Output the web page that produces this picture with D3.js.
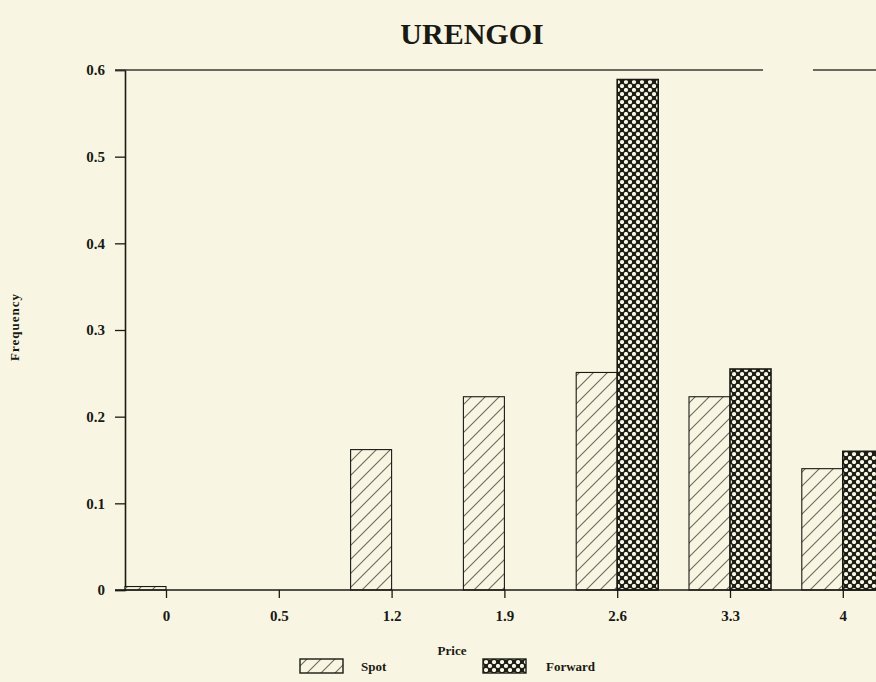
<!DOCTYPE html>
<html><head><meta charset="utf-8">
<script src="https://cdn.jsdelivr.net/npm/d3@7"></script>
<style>
html,body{margin:0;padding:0;background:#f8f6e2;}
svg{display:block;}
text{font-family:"Liberation Serif","DejaVu Serif",serif;fill:#1a1a14;}
</style></head><body>
<svg id="chart" width="876" height="682"></svg>
<script>
const title = "URENGOI";
const categories = ["0", "0.5", "1.2", "1.9", "2.6", "3.3", "4"];
const seriesNames = ["Spot", "Forward"];
const spotValues = [0.004, 0, 0.162, 0.223, 0.251, 0.223, 0.140];
const forwardValues = [0, 0, 0, 0, 0.589, 0.255, 0.160];
const yTicks = [0, 0.1, 0.2, 0.3, 0.4, 0.5, 0.6];
const yTickLabels = ["0", "0.1", "0.2", "0.3", "0.4", "0.5", "0.6"];
const xLabel = "Price";
const yLabel = "Frequency";

(function(){
const svg = d3.select("#chart");
const W = 876;
const ink = "#1a1a14";
const mLeft = 125, mBottom = 590, mTop = 70;
const step = 112.8;
const x0 = mLeft + 41;

const defs = svg.append("defs");
const ph = defs.append("pattern").attr("id","hatch").attr("patternUnits","userSpaceOnUse")
  .attr("width",14).attr("height",14);
ph.append("rect").attr("width",14).attr("height",14).attr("fill","#f8f6e2");
ph.append("path").attr("d","M-2,16 L16,-2 M-9,9 L9,-9 M5,23 L23,5")
  .attr("stroke","#6a6a60").attr("stroke-width",1.1);
const pf = defs.append("pattern").attr("id","cross").attr("patternUnits","userSpaceOnUse")
  .attr("width",8).attr("height",8);
pf.append("rect").attr("width",8).attr("height",8).attr("fill","#1e1e18");
pf.append("circle").attr("cx",2).attr("cy",2).attr("r",2.1).attr("fill","#f8f6e2");
pf.append("circle").attr("cx",6).attr("cy",6).attr("r",2.1).attr("fill","#f8f6e2");

const y = d3.scaleLinear().domain([0, 0.6]).range([mBottom, mTop]);
const x = d3.scalePoint().domain(categories)
  .range([x0, x0 + step * (categories.length - 1)]);
const barW = 41;

svg.append("text").attr("x", 472).attr("y", 44).attr("text-anchor","middle")
  .attr("font-size", 30).attr("font-weight","bold").text(title);

const yAxis = d3.axisLeft(y).tickValues(yTicks)
  .tickFormat((d,i)=>yTickLabels[i]).tickSize(10).tickPadding(10);
const gy = svg.append("g").attr("transform",`translate(${mLeft},0)`).call(yAxis);
gy.select(".domain").attr("stroke", ink).attr("stroke-width",1.6);
gy.selectAll(".tick line").attr("stroke", ink).attr("stroke-width",1.3);
gy.selectAll(".tick text").attr("font-size",15).attr("font-weight","bold")
  .attr("fill", ink).attr("font-family","Liberation Serif, serif");

// top border (with the gap seen in the reference)
svg.append("line").attr("x1", mLeft-10).attr("x2", 763).attr("y1", mTop).attr("y2", mTop)
  .attr("stroke","#3a3a32").attr("stroke-width",1.3);
svg.append("line").attr("x1", 813).attr("x2", W).attr("y1", mTop).attr("y2", mTop)
  .attr("stroke","#3a3a32").attr("stroke-width",1.3);

svg.append("g").selectAll("rect").data(categories).join("rect")
  .attr("x", d => x(d) - barW)
  .attr("y", (d,i) => y(spotValues[i]))
  .attr("width", barW)
  .attr("height", (d,i) => mBottom - y(spotValues[i]))
  .attr("fill","url(#hatch)")
  .attr("stroke", ink).attr("stroke-width",1.1)
  .style("display", (d,i) => spotValues[i] > 0 ? null : "none");
svg.append("g").selectAll("rect").data(categories).join("rect")
  .attr("x", d => x(d))
  .attr("y", (d,i) => y(forwardValues[i]))
  .attr("width", barW)
  .attr("height", (d,i) => mBottom - y(forwardValues[i]))
  .attr("fill","url(#cross)")
  .attr("stroke", ink).attr("stroke-width",1.6)
  .style("display", (d,i) => forwardValues[i] > 0 ? null : "none");

const xAxis = d3.axisBottom(x).tickSize(8).tickPadding(12);
const gx = svg.append("g").attr("transform",`translate(0,${mBottom})`).call(xAxis);
gx.select(".domain").remove();
svg.append("line").attr("x1", mLeft-10).attr("x2", W).attr("y1", mBottom).attr("y2", mBottom)
  .attr("stroke", ink).attr("stroke-width",1.3);
gx.selectAll(".tick line").attr("stroke", ink).attr("stroke-width",1.3);
gx.selectAll(".tick text").attr("font-size",15).attr("font-weight","bold")
  .attr("fill", ink).attr("font-family","Liberation Serif, serif");

svg.append("text").attr("x", 452).attr("y", 655).attr("text-anchor","middle")
  .attr("font-size", 13).attr("font-weight","bold").text(xLabel);
svg.append("text").attr("transform","translate(19,327) rotate(-90)")
  .attr("text-anchor","middle").attr("font-size", 13).attr("letter-spacing", 1)
  .attr("font-weight","bold").text(yLabel);

const legend = [
  {name: seriesNames[0], fill: "url(#hatch)", bx: 300, tx: 361},
  {name: seriesNames[1], fill: "url(#cross)", bx: 483, tx: 546}
];
const lg = svg.append("g");
legend.forEach(l => {
  lg.append("rect").attr("x", l.bx).attr("y", 659).attr("width", 43).attr("height", 14)
    .attr("fill", l.fill).attr("stroke", ink).attr("stroke-width",1.4);
  lg.append("text").attr("x", l.tx).attr("y", 671).attr("font-size", 13)
    .attr("font-weight","bold").text(l.name);
});
})();
</script>
</body></html>
